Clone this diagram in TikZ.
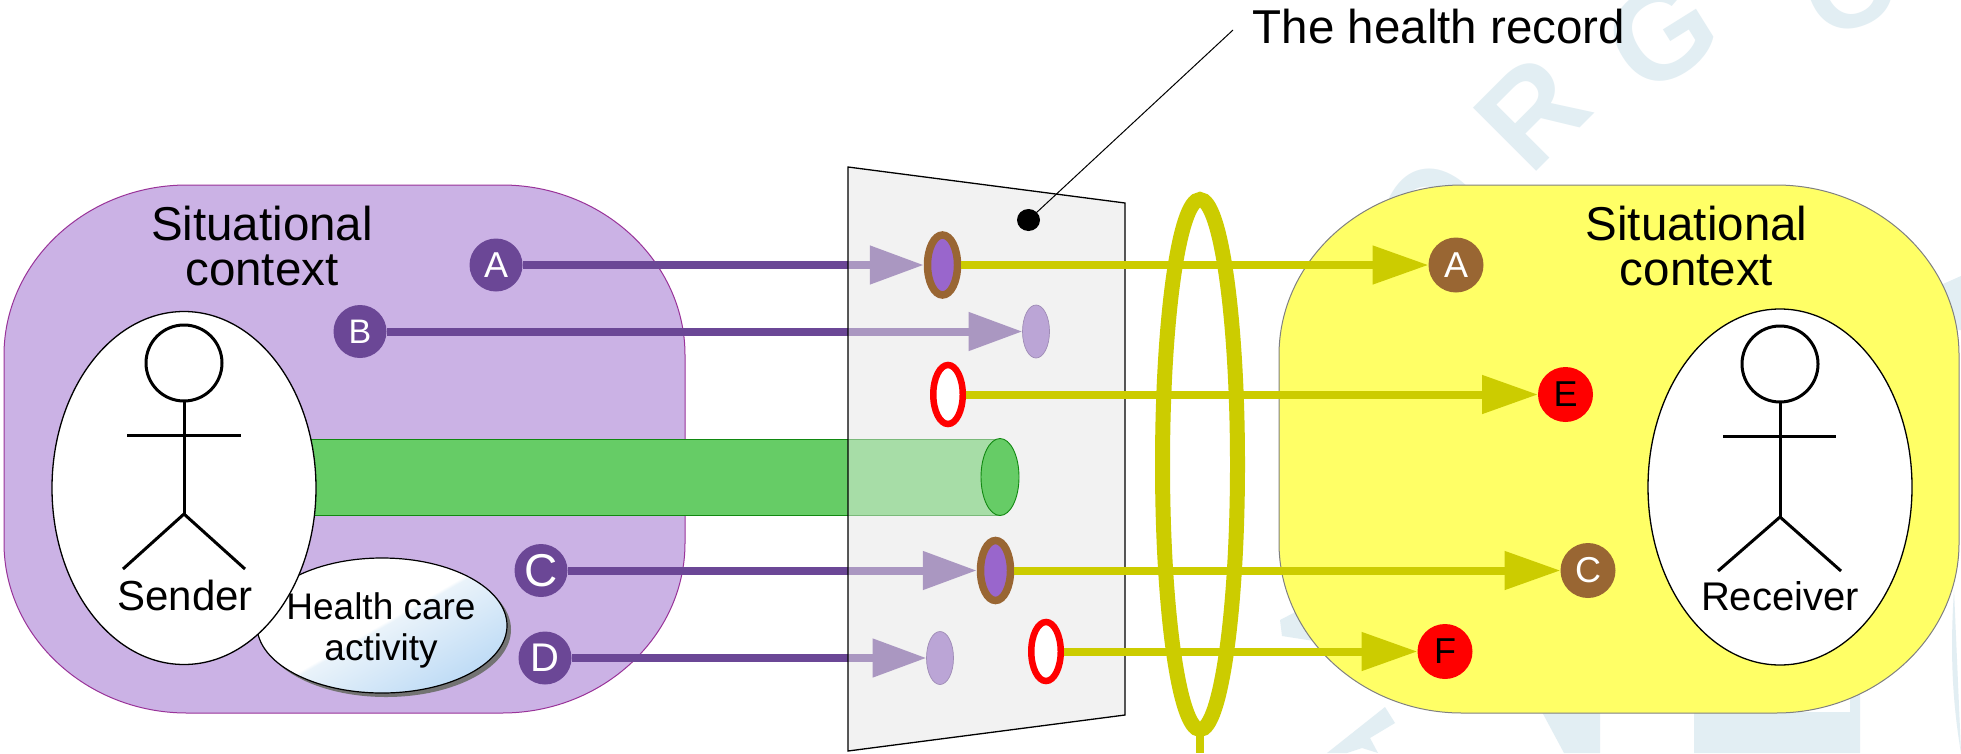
\documentclass[tikz,border=0pt]{standalone}
\usepackage{fontspec}
\setmainfont{Liberation Sans}
\usetikzlibrary{arrows.meta,shapes.geometric}
\pgfdeclarelayer{back}
\pgfdeclarelayer{sheet}
\pgfsetlayers{back,sheet,main}
\definecolor{boxpurple}{HTML}{CBB2E5}
\definecolor{boxedge}{HTML}{993399}
\definecolor{deep}{HTML}{6B4796}
\definecolor{mid}{HTML}{9966CC}
\definecolor{pale}{HTML}{BBA5D6}
\definecolor{brownish}{HTML}{996633}
\definecolor{olive}{HTML}{CCCC00}
\definecolor{lemon}{HTML}{FFFF66}
\definecolor{leaf}{HTML}{66CC66}
\definecolor{leafedge}{HTML}{118811}
\definecolor{wm}{HTML}{E2EEF3}
\definecolor{hcblue}{HTML}{B8D8F5}
\definecolor{hcmid}{HTML}{EAF3FA}
\definecolor{sheetgrey}{HTML}{F2F2F2}
\pgfdeclareverticalshading{hcshade}{100bp}{color(0bp)=(hcblue); color(22bp)=(hcblue); color(49.5bp)=(hcmid); color(50.5bp)=(white); color(100bp)=(white)}
\newcommand{\fs}[1]{\fontsize{#1}{#1}\selectfont}
\tikzset{
  oval/.style={ellipse,inner sep=0pt,outer sep=0pt},
  badge/.style={oval,minimum width=53pt,minimum height=53pt,fill=#1},
  whitetext/.style={text=white},
  actor/.style={oval,draw=black,line width=1.3pt,fill=white,minimum width=264pt},
  stickman/.style={line width=3pt,draw=black},
  sent/.style={oval,fill=pale,draw=pale!85!black,line width=.7pt,minimum width=27pt,minimum height=53pt},
  kept/.style={oval,fill=mid,draw=brownish,line width=7.5pt,outer sep=3.75pt,minimum width=30pt,minimum height=60pt},
  lost/.style={oval,fill=white,draw=red,line width=6.5pt,outer sep=3.25pt,minimum width=29.5pt,minimum height=59pt},
  outflow/.style={line width=8pt,draw=deep,-{Triangle[length=54pt,width=37pt]},fill=deep},
  inflow/.style={line width=8pt,draw=olive,-{Triangle[length=56pt,width=37pt]},fill=olive},
  plainflow/.style={line width=8pt,draw=olive},
  wmark/.style={text=wm,font=\bfseries\fs{#1},inner sep=0pt},
  wmpiece/.style={fill=wm,draw=none},
  label/.style={inner sep=0pt,align=center},
}
\begin{document}
\begin{tikzpicture}[x=1pt,y=-1pt]
\useasboundingbox (0,0) rectangle (1961,753);
\begin{pgfonlayer}{back}
\fill[white] (0,0) rectangle (1961,753);
\begin{scope}
\clip (0,0) rectangle (1961,753);
\node[wmark=130,rotate=45] (wmR) at (1532,113) {R};
\node[wmark=130,rotate=32] (wmG) at (1662,34) {G};
\node[wmark=120,rotate=22] (wmO) at (1850,-14) {O};
\node[wmark=130,rotate=58] (wmC) at (1432,216) {O};
\fill[wmpiece] (1280,620) -- (1305,607) -- (1340,600) -- (1340,645) -- (1282,636) -- cycle;
\fill[wmpiece] (1327,753) -- (1385,707) -- (1395,723) -- (1370,738) -- (1378,753) -- (1362,748) -- (1347,753) -- cycle;
\fill[wmpiece] (1542,712) -- (1600,712) -- (1600,753) -- (1564,753) -- cycle;
\fill[wmpiece] (1694,712) -- (1850,712) -- (1850,690) -- (1860,690) -- (1860,753) -- (1694,753) -- cycle;
\fill[wmpiece] (1954,590) .. controls (1950,650) and (1952,700) .. (1961,753) -- cycle;
\fill[wmpiece] (1934,288) -- (1961,276) -- (1961,330) -- (1945,330) -- cycle;
\end{scope}
% context boxes
\draw[fill=boxpurple,draw=boxedge,line width=1pt] (187,185) -- (502,185) .. controls (603,185) and (685,262) .. (685,355) -- (685,543) .. controls (685,636) and (603,713) .. (502,713) -- (187,713) .. controls (86,713) and (4,636) .. (4,543) -- (4,355) .. controls (4,262) and (86,185) .. (187,185) -- cycle;
\draw[fill=lemon,draw=black!50,line width=1pt] (1462,185) -- (1776,185) .. controls (1877,185) and (1959,262) .. (1959,355) -- (1959,543) .. controls (1959,636) and (1877,713) .. (1776,713) -- (1462,713) .. controls (1361,713) and (1279,636) .. (1279,543) -- (1279,355) .. controls (1279,262) and (1361,185) .. (1462,185) -- cycle;
% opaque sheet under the things that pass behind it
\fill[sheetgrey] (848,167) -- (1125,203) -- (1125,715) -- (848,751) -- cycle;
% cylinder body
\fill[leaf] (300,439) rectangle (1000,515);
\draw[leafedge,line width=.8pt] (300,439) -- (1000,439) (300,515) -- (1000,515);
\end{pgfonlayer}
% sheet veil
\begin{pgfonlayer}{sheet}
\fill[fill=sheetgrey,fill opacity=.47] (848,167) -- (1125,203) -- (1125,715) -- (848,751) -- cycle;
\draw[black,line width=1.3pt] (848,167) -- (1125,203) -- (1125,715) -- (848,751) -- cycle;
\end{pgfonlayer}
% cylinder end
\node[oval,fill=leaf,draw=leafedge,line width=.9pt,minimum width=38pt,minimum height=77pt] (cyl) at (1000,477) {};
% dots on the record
\node[oval,fill=black,minimum width=23pt,minimum height=22pt] (dot) at (1028.5,220) {};
\coordinate (leaderend) at (1233,30);
\draw[black,line width=1pt] (dot) -- (leaderend);
\node[kept] (pA) at (942.5,265) {};
\node[sent] (pB) at (1036,331.5) {};
\node[lost] (pE) at (948,394.5) {};
\node[kept] (pC) at (995.5,570.5) {};
\node[sent] (pD) at (940,658) {};
\node[lost] (pF) at (1046,651.5) {};
% sender side badges
\node[badge=deep,whitetext,font=\fs{36}] (sA) at (496,265) {A};
\node[badge=deep,whitetext,font=\fs{34}] (sB) at (360,331.5) {B};
\node[badge=deep,whitetext,font=\fs{46}] (sC) at (541,570.5) {C};
\node[badge=deep,whitetext,font=\fs{40}] (sD) at (545,658) {D};
% receiver side badges
\node[badge=brownish,whitetext,font=\fs{36},minimum width=55pt,minimum height=55pt] (rA) at (1456,265) {A};
\node[badge=red,font=\fs{36},minimum width=55pt,minimum height=55pt] (rE) at (1565.5,394.5) {E};
\node[badge=brownish,whitetext,font=\fs{36},minimum width=55pt,minimum height=55pt] (rC) at (1588,570.5) {C};
\node[badge=red,font=\fs{36},minimum width=55pt,minimum height=55pt] (rF) at (1445,651.5) {F};
% flows to the record
\begin{pgfonlayer}{back}
\draw[outflow] (sA) -- (pA);
\draw[outflow] (sB) -- (pB);
\draw[outflow] (sC) -- (pC);
\draw[outflow] (sD) -- (pD);
\end{pgfonlayer}
% flows from the record
\draw[inflow] (pA) -- (rA);
\draw[inflow] (pE) -- (rE);
\draw[inflow] (pC) -- (rC);
\draw[inflow] (pF) -- (rF);
% ring
\node[oval,draw=olive,line width=15pt,minimum width=75pt,minimum height=530pt] (ring) at (1200,464.5) {};
\coordinate (ringend) at (1200,753);
\draw[plainflow] (ring.south) -- (ringend);
% health care activity
\node[oval,fill=black!55,minimum width=250pt,minimum height=135pt] (hcshadow) at (386,629.5) {};
\node[oval,draw=black,line width=1.2pt,shading=hcshade,shading angle=30,minimum width=250pt,minimum height=135pt] (hc) at (382,625.5) {};
% sender
\node[actor,minimum height=353pt] (sender) at (184,488) {};
\node[oval,draw=black,line width=3pt,minimum width=76pt,minimum height=76pt] (shead) at (184,363) {};
\coordinate (ship) at (184,514);
\draw[stickman] (shead.south) -- (ship);
\draw[stickman] (127,435) -- (241,435);
\draw[stickman] (123,569) -- (ship) -- (245,569);
% receiver
\node[actor,minimum height=356pt] (receiver) at (1780,487) {};
\node[oval,draw=black,line width=3pt,minimum width=76pt,minimum height=76pt] (rhead) at (1780,364) {};
\coordinate (rhip) at (1780,517);
\draw[stickman] (rhead.south) -- (rhip);
\draw[stickman] (1723,436) -- (1836,436);
\draw[stickman] (1718,571) -- (rhip) -- (1841,571);
% labels
\node[label,font=\fs{47.5},anchor=base] (lab1) at (1439,43) {The health record};
\node[label,font=\fs{47.5}] (lab2) at (262,246) {Situational\\[-2pt]context};
\node[label,font=\fs{47.5}] (lab3) at (1696.5,246) {Situational\\[-2pt]context};
\node[label,font=\fs{42},anchor=base] (lab4) at (185,610) {Sender};
\node[label,font=\fs{40},anchor=base] (lab5) at (1780,610) {Receiver};
\node[label,font=\fs{37}] (lab6) at (381,630) {Health care\\[4pt]activity};
\end{tikzpicture}
\end{document}
